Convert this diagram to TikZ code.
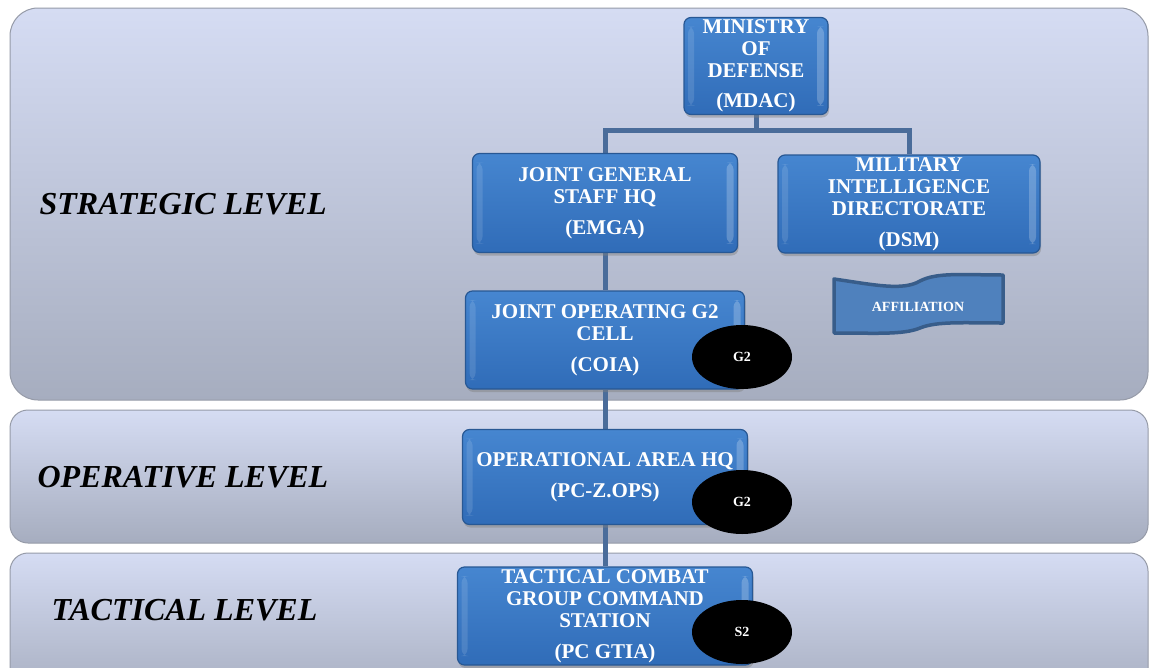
\documentclass[tikz,border=0pt]{standalone}
\usepackage{fontspec}
\setmainfont{Liberation Serif}
\usetikzlibrary{shapes.geometric,shadows}
\pgfdeclarelayer{bands}
\pgfdeclarelayer{links}
\pgfsetlayers{bands,links,main}
\definecolor{bandtop}{RGB}{213,220,243}
\definecolor{bandbot}{RGB}{166,173,191}
\definecolor{bandedge}{RGB}{150,155,168}
\definecolor{boxtop}{RGB}{70,134,208}
\definecolor{boxbot}{RGB}{48,108,184}
\definecolor{boxedge}{RGB}{40,88,148}
\definecolor{linkblue}{RGB}{74,108,154}
\definecolor{flagfill}{RGB}{79,129,189}
\definecolor{flagedge}{RGB}{56,93,138}
\tikzset{
  band/.style={draw=bandedge, line width=1pt, top color=bandtop, bottom color=bandbot},
  unit/.style={rectangle, rounded corners=7pt, draw=boxedge, line width=1.2pt,
    top color=boxtop, bottom color=boxbot, text=white, align=center, inner sep=2pt,
    font=\bfseries\fontsize{21}{22}\selectfont,
    path picture={
      \fill[white, opacity=0.22] ([xshift=-11pt,yshift=-9pt]path picture bounding box.north east)
        rectangle ([xshift=-4pt,yshift=9pt]path picture bounding box.south east);
      \fill[white, opacity=0.12] ([xshift=4pt,yshift=-9pt]path picture bounding box.north west)
        rectangle ([xshift=10pt,yshift=9pt]path picture bounding box.south west);},
    drop shadow={shadow xshift=1pt, shadow yshift=-3pt, opacity=0.45}},
  badge/.style={ellipse, fill=black, text=white, inner sep=0pt,
    minimum width=100pt, minimum height=64pt, font=\bfseries\fontsize{14}{15}\selectfont},
  level/.style={anchor=west, font=\bfseries\itshape\fontsize{32}{34}\selectfont},
  link/.style={draw=linkblue, line width=5pt}
}
\begin{document}
\begin{tikzpicture}[x=1pt,y=-1pt]
  \clip (0,0) rectangle (1154,667);
  \begin{pgfonlayer}{bands}
    \fill[white] (0,0) rectangle (1154,667);
    \draw[band, rounded corners=28pt] (10,8) rectangle (1148,400);
    \draw[band, rounded corners=18pt] (10,410) rectangle (1148,543);
    \draw[band, rounded corners=18pt] (10,553) rectangle (1148,700);
  \end{pgfonlayer}

  % levels
  \node[level] (strat) at (36,204) {STRATEGIC LEVEL};
  \node[level] (oper) at (34,477) {OPERATIVE LEVEL};
  \node[level] (tact) at (48,610) {TACTICAL LEVEL};

  % units
  \node[unit, minimum width=144pt, minimum height=97pt] (mdac) at (756,66)
    {MINISTRY\\OF\\DEFENSE\\[8pt](MDAC)};
  \node[unit, minimum width=265pt, minimum height=99pt] (emga) at (605,203)
    {JOINT GENERAL\\STAFF HQ\\[9pt](EMGA)};
  \node[unit, minimum width=262pt, minimum height=98pt] (dsm) at (909,204)
    {MILITARY\\INTELLIGENCE\\DIRECTORATE\\[9pt](DSM)};
  \node[unit, minimum width=279pt, minimum height=98pt] (coia) at (605,340)
    {JOINT OPERATING G2\\CELL\\[9pt](COIA)};
  \node[unit, minimum width=285pt, minimum height=95pt] (zops) at (605,477)
    {OPERATIONAL AREA HQ\\[9pt](PC-Z.OPS)};
  \node[unit, minimum width=295pt, minimum height=98pt] (gtia) at (605,616)
    {TACTICAL COMBAT\\GROUP COMMAND\\STATION\\[9pt](PC GTIA)};

  % intelligence cells
  \node[badge] (g2a) at (742,357) {G2};
  \node[badge] (g2b) at (742,502) {G2};
  \node[badge] (s2) at (742,632) {S2};

  % affiliation flag
  \draw[fill=flagfill, draw=flagedge, line width=3.5pt, line join=round]
    (834,279) .. controls (875,285) and (903,291) .. (920,281)
    .. controls (937,272) and (965,275) .. (1003,275) -- (1003,323)
    .. controls (965,323) and (937,321) .. (920,328)
    .. controls (903,335) and (875,333) .. (834,333) -- cycle;
  \node[text=white, font=\bfseries\fontsize{14}{16}\selectfont] (affil) at (918,307) {AFFILIATION};

  \begin{pgfonlayer}{links}
    \draw[link] (mdac.south) -- ++(0,15) coordinate (fork);
    \draw[link] (fork) -| (emga.north);
    \draw[link] (fork) -| (dsm.north);
    \draw[link] (emga.south) -- (coia.north);
    \draw[link] (coia.south) -- (zops.north);
    \draw[link] (zops.south) -- (gtia.north);
  \end{pgfonlayer}
\end{tikzpicture}
\end{document}
